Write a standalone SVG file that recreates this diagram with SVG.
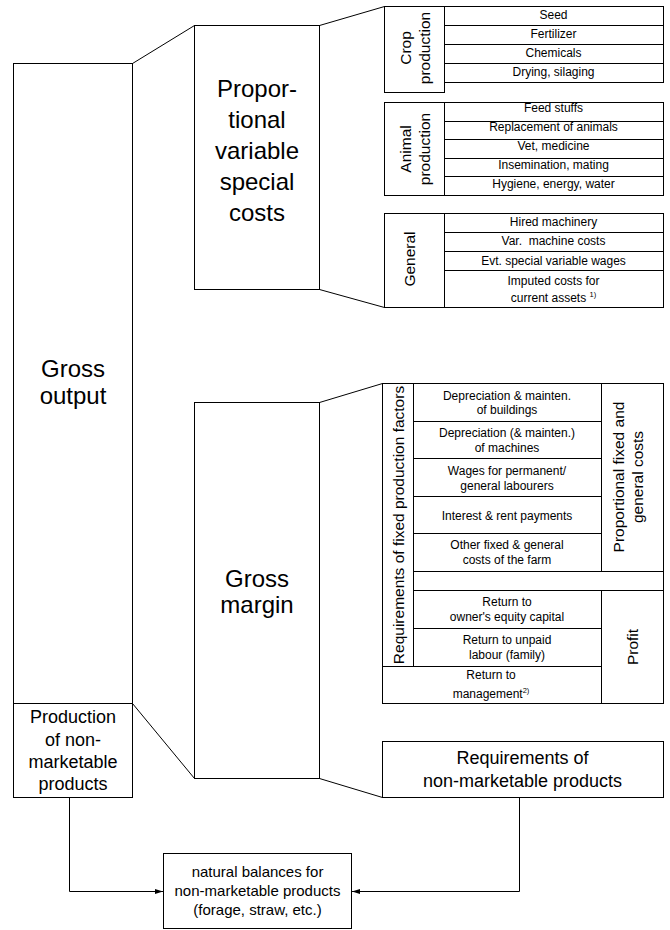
<svg xmlns="http://www.w3.org/2000/svg" width="670" height="930" viewBox="0 0 670 930">
<defs>
<style>
.b{fill:#fff;stroke:#000;stroke-width:1}
.l{fill:none;stroke:#000;stroke-width:1}
text{font-family:"Liberation Sans",Arial,Helvetica,sans-serif;fill:#000;text-anchor:middle}
.s12{font-size:12px}
.s15{font-size:15.5px}
.s18{font-size:18px}
.s24{font-size:24px}
.nb{font-size:15px}
.sup{font-size:7.5px}
</style>
<marker id="ah" markerWidth="8" markerHeight="5" refX="8" refY="2.5" orient="auto" markerUnits="userSpaceOnUse">
<path d="M0,0 L8,2.5 L0,5 z" fill="#000"/>
</marker>
</defs>
<rect width="670" height="930" fill="#fff"/>

<g id="connectors">
<path class="l" d="M132.5,63.5 L194.5,25.5"/>
<path class="l" d="M319.5,25.5 L384.5,6.5"/>
<path class="l" d="M319.5,289.5 L384.5,307.5"/>
<path class="l" d="M319.5,402.5 L382.5,383.5"/>
<path class="l" d="M132.5,703.5 L194.5,778.5"/>
<path class="l" d="M319.5,778.5 L382.5,797.5"/>
<path class="l" d="M69.5,797.5 V891.5 H163" marker-end="url(#ah)"/>
<path class="l" d="M519.5,797.5 V891.5 H352" marker-end="url(#ah)"/>
</g>

<g id="gross-output">
<rect class="b" x="13.5" y="63.5" width="119" height="640"/>
<text class="s24" x="73" y="377">Gross</text>
<text class="s24" x="73" y="404">output</text>
</g>

<g id="production-non-marketable">
<rect class="b" x="13.5" y="703.5" width="119" height="94"/>
<text class="s18" x="73" y="723">Production</text>
<text class="s18" x="73" y="746">of non-</text>
<text class="s18" x="73" y="768">marketable</text>
<text class="s18" x="73" y="790">products</text>
</g>

<g id="proportional-variable">
<rect class="b" x="194.5" y="25.5" width="125" height="264"/>
<text class="s24" x="257" y="97">Propor-</text>
<text class="s24" x="257" y="128">tional</text>
<text class="s24" x="257" y="159">variable</text>
<text class="s24" x="257" y="190">special</text>
<text class="s24" x="257" y="221">costs</text>
</g>

<g id="crop-production">
<rect class="b" x="384.5" y="6.5" width="60" height="86"/>
<rect class="b" x="444.5" y="6.5" width="219" height="76"/>
<path class="l" d="M444.5,25.5 H663.5 M444.5,44.5 H663.5 M444.5,63.5 H663.5"/>
<text class="s15" transform="translate(414,48) rotate(-90)"><tspan x="0" y="-2.6">Crop</tspan><tspan x="0" y="16.4">production</tspan></text>
<text class="s12" x="553.5" y="18.5">Seed</text>
<text class="s12" x="553.5" y="37.5">Fertilizer</text>
<text class="s12" x="553.5" y="56.5">Chemicals</text>
<text class="s12" x="553.5" y="75.5">Drying, silaging</text>
</g>

<g id="animal-production">
<rect class="b" x="384.5" y="102.5" width="60" height="93"/>
<rect class="b" x="444.5" y="102.5" width="219" height="93"/>
<path class="l" d="M444.5,121.5 H663.5 M444.5,139.5 H663.5 M444.5,158.5 H663.5 M444.5,176.5 H663.5"/>
<text class="s15" transform="translate(414,149) rotate(-90)"><tspan x="0" y="-2.6">Animal</tspan><tspan x="0" y="16.4">production</tspan></text>
<text class="s12" x="553.5" y="112">Feed stuffs</text>
<text class="s12" x="553.5" y="131">Replacement of animals</text>
<text class="s12" x="553.5" y="150">Vet, medicine</text>
<text class="s12" x="553.5" y="168.5">Insemination, mating</text>
<text class="s12" x="553.5" y="187.5">Hygiene, energy, water</text>
</g>

<g id="general">
<rect class="b" x="384.5" y="213.5" width="60" height="94"/>
<rect class="b" x="444.5" y="213.5" width="219" height="94"/>
<path class="l" d="M444.5,232.5 H663.5 M444.5,251.5 H663.5 M444.5,270.5 H663.5"/>
<text class="s15" transform="translate(414,259) rotate(-90)" y="0.5">General</text>
<text class="s12" x="553.5" y="226">Hired machinery</text>
<text class="s12" x="553.5" y="245" xml:space="preserve">Var.  machine costs</text>
<text class="s12" x="553.5" y="264.5">Evt. special variable wages</text>
<text class="s12" x="553.5" y="284.5">Imputed costs for</text>
<text class="s12" x="553.5" y="301.5">current assets <tspan class="sup" dy="-5">1)</tspan></text>
</g>

<g id="gross-margin">
<rect class="b" x="194.5" y="402.5" width="125" height="376"/>
<text class="s24" x="257" y="587">Gross</text>
<text class="s24" x="257" y="613">margin</text>
</g>

<g id="fixed-production-factors">
<rect class="b" x="382.5" y="383.5" width="31" height="283"/>
<text class="s15" transform="translate(398,525) rotate(-90)" y="6">Requirements of fixed production factors</text>
</g>

<g id="fixed-general-costs">
<rect class="b" x="413.5" y="383.5" width="188" height="188"/>
<path class="l" d="M413.5,421.5 H601.5 M413.5,458.5 H601.5 M413.5,496.5 H601.5 M413.5,533.5 H601.5"/>
<rect class="b" x="601.5" y="383.5" width="62" height="188"/>
<text class="s15" transform="translate(632,477) rotate(-90)"><tspan x="0" y="-7.6">Proportional fixed and</tspan><tspan x="0" y="11.4">general costs</tspan></text>
<text class="s12" x="507" y="399.5">Depreciation &amp; mainten.</text>
<text class="s12" x="507" y="414">of buildings</text>
<text class="s12" x="507" y="437">Depreciation (&amp; mainten.)</text>
<text class="s12" x="507" y="451.5">of machines</text>
<text class="s12" x="507" y="474.5">Wages for permanent/</text>
<text class="s12" x="507" y="489.5">general labourers</text>
<text class="s12" x="507" y="520">Interest &amp; rent payments</text>
<text class="s12" x="507" y="548.5">Other fixed &amp; general</text>
<text class="s12" x="507" y="564">costs of the farm</text>
<rect class="b" x="413.5" y="571.5" width="250" height="19"/>
</g>

<g id="profit">
<rect class="b" x="413.5" y="590.5" width="188" height="76"/>
<path class="l" d="M413.5,628.5 H601.5"/>
<rect class="b" x="382.5" y="666.5" width="219" height="37"/>
<rect class="b" x="601.5" y="590.5" width="62" height="113"/>
<text class="s15" transform="translate(632,647) rotate(-90)" y="5.5">Profit</text>
<text class="s12" x="507" y="606">Return to</text>
<text class="s12" x="507" y="621">owner's equity capital</text>
<text class="s12" x="507" y="643.5">Return to unpaid</text>
<text class="s12" x="507" y="659">labour (family)</text>
<text class="s12" x="491" y="678.5">Return to</text>
<text class="s12" x="491" y="697.5">management<tspan class="sup" dy="-5">2)</tspan></text>
</g>

<g id="requirements-non-marketable">
<rect class="b" x="382.5" y="741.5" width="281" height="56"/>
<text class="s18" x="522.5" y="764">Requirements of</text>
<text class="s18" x="522.5" y="787">non-marketable products</text>
</g>

<g id="natural-balances">
<rect class="b" x="163.5" y="853.5" width="188" height="75"/>
<text class="nb" x="257.5" y="877">natural balances for</text>
<text class="nb" x="257.5" y="896">non-marketable products</text>
<text class="nb" x="257.5" y="915">(forage, straw, etc.)</text>
</g>
</svg>
